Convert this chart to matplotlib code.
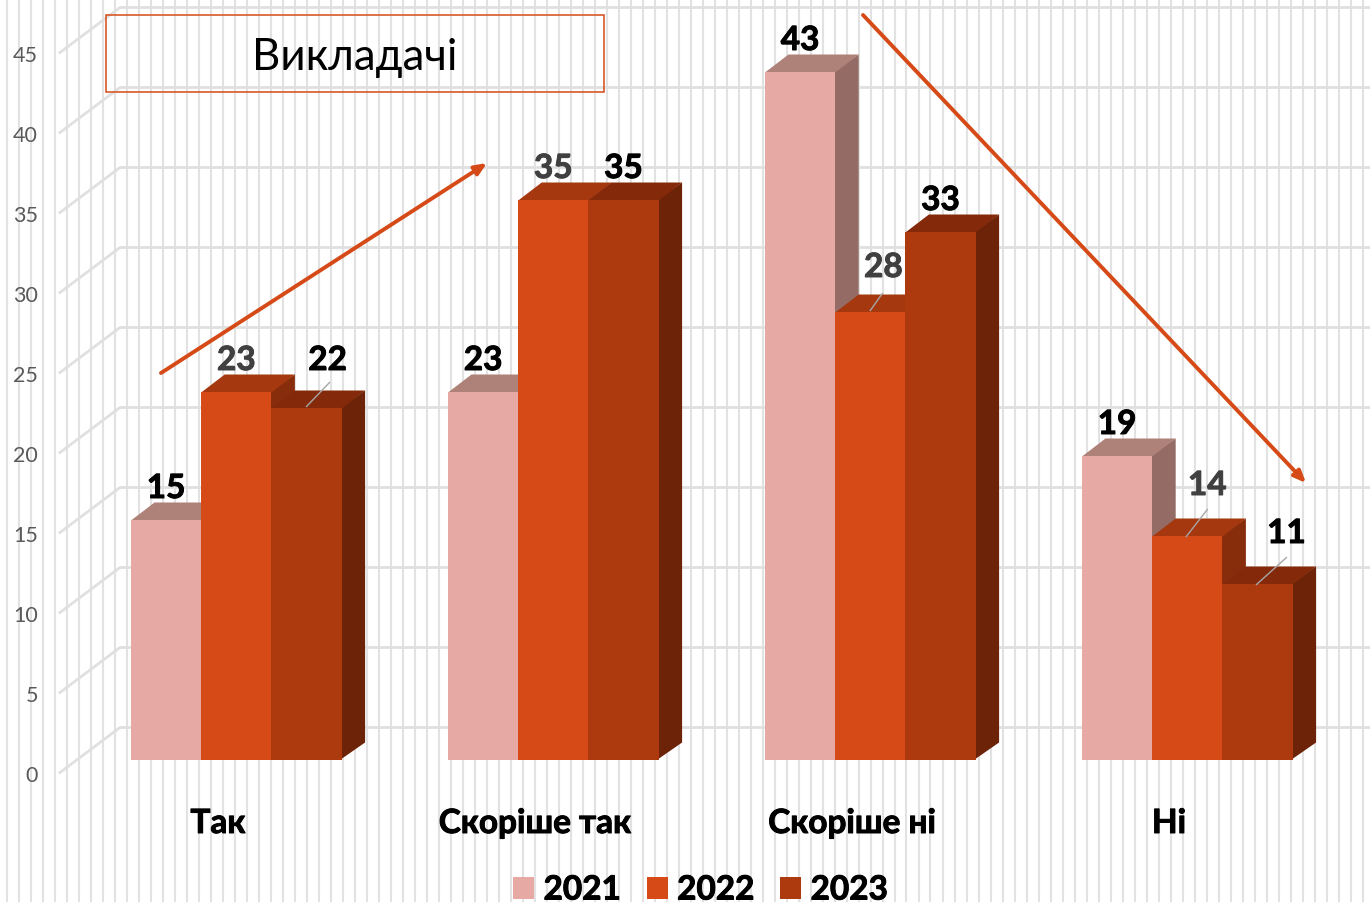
import matplotlib
matplotlib.use("Agg")
import matplotlib.pyplot as plt
import matplotlib.patheffects as pe
from matplotlib.patches import Polygon, Rectangle, Patch

plt.rcParams['font.family'] = ['Lato', 'Open Sans', 'DejaVu Sans']

categories = ['Так', 'Скоріше так', 'Скоріше ні', 'Ні']
series_names = ['2021', '2022', '2023']
values_2021 = [15, 23, 43, 19]
values_2022 = [23, 35, 28, 14]
values_2023 = [22, 35, 33, 11]
all_values = [values_2021, values_2022, values_2023]
value_ticks = [0, 5, 10, 15, 20, 25, 30, 35, 40, 45]
title_text = 'Викладачі'

W, H = 1370, 903
PX_PER_CAT = 317.0
PX_PER_VAL = 16.0
X0_PX = 218.0
Y0_PX = 760.5

def dx(px):
    return px / PX_PER_CAT

def dy(px):
    return px / PX_PER_VAL

def X(px):
    return (px - X0_PX) / PX_PER_CAT

def Y(px):
    return (Y0_PX - px) / PX_PER_VAL

def heavy(color):
    return [pe.withStroke(linewidth=0.7, foreground=color)]

fig = plt.figure(figsize=(W / 100, H / 100), dpi=100, facecolor='white')
ax = fig.add_axes([0, 0, 1, 1])
ax.set_xlim(X(0), X(W))
ax.set_ylim(Y(H), Y(0))
ax.axis('off')

grid_color = '#E2E2E2'
for k in range(115):
    ax.axvline(X(6.5 + 12 * k), color=grid_color, lw=1.5, zorder=1)

for v in value_ticks:
    ax.plot([X(60), X(120), X(W)],
            [v + dy(-13), v + dy(32), v + dy(32)],
            color='#E0E0E0', lw=2.0, zorder=2, solid_joinstyle='round')
    ax.text(X(38), v + dy(-16), str(v), ha='right', va='center',
            fontsize=15.5, color='#595959', zorder=6)

front = ['#E7A9A4', '#D54A17', '#AD390F']
top = ['#AF8279', '#A5380F', '#842A0B']
side = ['#946C65', '#882D0C', '#6D2308']

BAR_W = 70.2
GROUP_OFF = -87.0
DEPTH_X = 23.5
DEPTH_Y = 17.0

z = 3.0
for i, _ in enumerate(categories):
    for j, vals in enumerate(all_values):
        v = vals[i]
        x0 = i + dx(GROUP_OFF + j * BAR_W)
        x1 = x0 + dx(BAR_W)
        ddx, ddy = dx(DEPTH_X), dy(DEPTH_Y)
        ax.add_patch(Polygon([(x1 - dx(1), 0), (x1 + ddx, ddy), (x1 + ddx, v + ddy), (x1 - dx(1), v)],
                             closed=True, fc=side[j], ec='none', zorder=z))
        ax.add_patch(Polygon([(x0, v - dy(1)), (x0 + ddx, v + ddy), (x1 + ddx, v + ddy), (x1, v - dy(1))],
                             closed=True, fc=top[j], ec='none', zorder=z + 0.1))
        ax.add_patch(Rectangle((x0, 0), x1 - x0, v, fc=front[j], ec='none', zorder=z + 0.2))
        z += 0.3

# label offsets from the bar's top-centre, in pixels: series, category -> (dx, dy, leader)
label_shift = {
    (2, 0): (21, 47, ((0, 1), (23, 25))),
    (1, 2): (13, 44, ((0, 1), (12, 18))),
    (1, 3): (20, 50, ((-1, -1), (20, 26))),
    (2, 3): (29, 50, ((-1, -1), (29, 26))),
}
label_colors = ['#000000', '#404040', '#000000']
for j, vals in enumerate(all_values):
    for i, v in enumerate(vals):
        xc = i + dx(GROUP_OFF + (j + 0.5) * BAR_W)
        sx, sy, leader = label_shift.get((j, i), (0, 31, None))
        ax.text(xc + dx(sx), v + dy(sy), str(v), ha='center', va='center',
                fontsize=24, fontweight='bold', color=label_colors[j], zorder=12,
                path_effects=heavy(label_colors[j]))
        if leader:
            (ax0, ay0), (ax1, ay1) = leader
            ax.plot([xc + dx(ax0), xc + dx(ax1)], [v + dy(ay0), v + dy(ay1)],
                    color='#A6A6A6', lw=1.0, zorder=11)

for i, c in enumerate(categories):
    ax.text(i, dy(-64), c, ha='center', va='center', fontsize=24,
            fontweight='bold', color='#000000', zorder=12, path_effects=heavy('#000000'))

accent = '#D54A17'
ax.add_patch(Rectangle((X(106), Y(93)), dx(498), dy(77), fc='none', ec=accent, lw=1.1, zorder=13))
ax.text(X(355), Y(57), title_text, ha='center', va='center', fontsize=31.5,
        color='#000000', zorder=14)

for start, end in [((161, 374), (487, 164)), ((863, 16), (1306, 484))]:
    ax.annotate('', xy=(X(end[0]), Y(end[1])), xytext=(X(start[0]), Y(start[1])),
                arrowprops=dict(arrowstyle='-|>,head_length=0.7,head_width=0.3',
                                color=accent, lw=2.8, shrinkA=0, shrinkB=0), zorder=15)

handles = [Patch(fc=front[j], ec='none', label=series_names[j]) for j in range(3)]
leg = ax.legend(handles=handles, ncol=3, loc='center', bbox_to_anchor=(700.5 / W, 1 - 891 / H),
                bbox_transform=fig.transFigure, frameon=False, prop={'size': 24, 'weight': 'bold'},
                handlelength=0.63, handleheight=0.63, handletextpad=0.28, columnspacing=0.78,
                borderpad=0, borderaxespad=0, labelcolor='#000000')
for t in leg.get_texts():
    t.set_path_effects(heavy('#000000'))

fig.savefig('out.png', dpi=100, facecolor='white')
